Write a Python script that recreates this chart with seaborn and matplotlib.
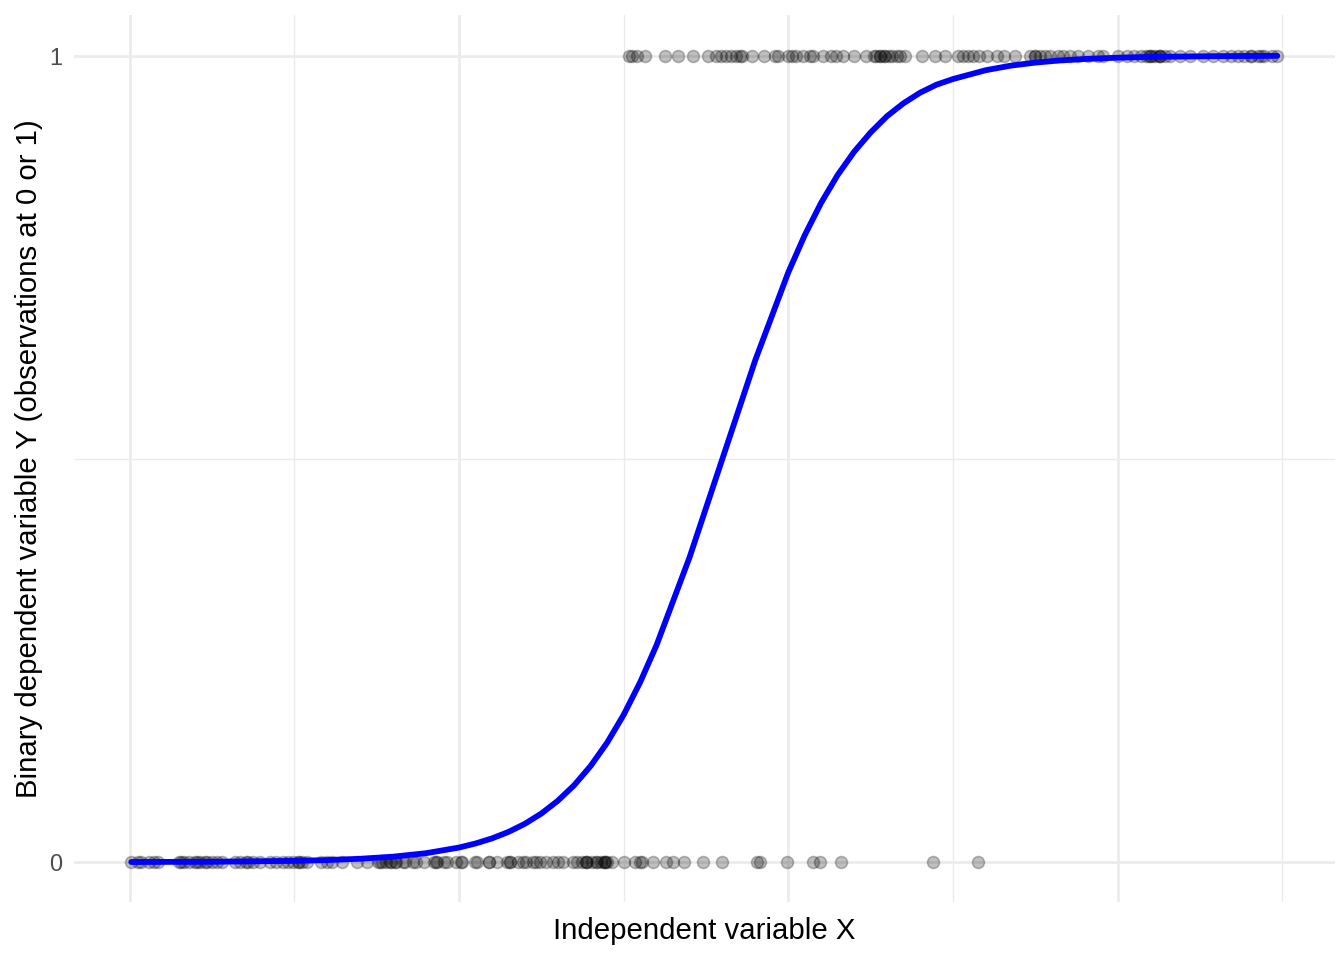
import numpy as np
import pandas as pd
import matplotlib
matplotlib.use("Agg")
import matplotlib.pyplot as plt
import seaborn as sns

# observations at Y = 0 (x positions)
x_zero = [0.01, 0.05, 0.07, 0.12, 0.15, 0.17, 0.30, 0.31, 0.33, 0.36, 0.40, 0.41,
          0.43, 0.46, 0.47, 0.50, 0.53, 0.56, 0.64, 0.67, 0.71, 0.72, 0.75, 0.79,
          0.85, 0.89, 0.93, 0.96, 0.99, 1.02, 1.03, 1.05, 1.08, 1.16, 1.20, 1.23,
          1.29, 1.38, 1.44, 1.51, 1.52, 1.53, 1.56, 1.58, 1.59, 1.61, 1.62, 1.66,
          1.67, 1.72, 1.74, 1.79, 1.85, 1.86, 1.87, 1.91, 1.93, 1.98, 2.01, 2.02,
          2.10, 2.11, 2.18, 2.18, 2.23, 2.29, 2.31, 2.31, 2.36, 2.39, 2.41, 2.45,
          2.47, 2.49, 2.53, 2.57, 2.60, 2.63, 2.69, 2.72, 2.75, 2.77, 2.77, 2.78,
          2.81, 2.83, 2.84, 2.86, 2.88, 2.89, 2.89, 2.90, 2.93, 3.00, 3.07, 3.10,
          3.11, 3.18, 3.26, 3.30, 3.37, 3.48, 3.60, 3.81, 3.83, 3.99, 4.15, 4.19,
          4.32, 4.88, 5.15]

# observations at Y = 1
x_one = [3.03, 3.05, 3.08, 3.13, 3.25, 3.33, 3.42, 3.51, 3.56, 3.59, 3.62, 3.65,
         3.68, 3.71, 3.72, 3.78, 3.85, 3.92, 3.94, 4.00, 4.02, 4.05, 4.09, 4.13,
         4.15, 4.21, 4.26, 4.29, 4.33, 4.40, 4.47, 4.52, 4.53, 4.56, 4.56, 4.58,
         4.59, 4.61, 4.63, 4.66, 4.68, 4.71, 4.81, 4.89, 4.95, 5.03, 5.06, 5.09,
         5.12, 5.16, 5.21, 5.27, 5.31, 5.38, 5.47, 5.50, 5.50, 5.53, 5.56, 5.59,
         5.64, 5.67, 5.71, 5.76, 5.82, 5.88, 5.91, 6.00, 6.06, 6.10, 6.14, 6.17,
         6.19, 6.20, 6.21, 6.23, 6.25, 6.26, 6.26, 6.29, 6.32, 6.38, 6.44, 6.52,
         6.58, 6.64, 6.69, 6.73, 6.77, 6.81, 6.81, 6.85, 6.87, 6.89, 6.94, 6.97]

# fitted probability curve
curve_x = [0.01, 0.5, 1.0, 1.2, 1.4, 1.6, 1.8, 2.0, 2.1, 2.2, 2.3, 2.4, 2.5, 2.6,
           2.7, 2.8, 2.9, 3.0, 3.1, 3.2, 3.4, 3.6, 3.8, 4.0, 4.1, 4.2, 4.3, 4.4,
           4.5, 4.6, 4.7, 4.8, 4.9, 5.0, 5.2, 5.35, 5.5, 5.65, 5.8, 6.0, 6.2,
           6.6, 6.97]
curve_p = [0.0001, 0.0004, 0.0015, 0.0025, 0.0041, 0.0067, 0.0110, 0.0180, 0.0230,
           0.0293, 0.0373, 0.0474, 0.0601, 0.0759, 0.0953, 0.1192, 0.1480, 0.1824,
           0.2227, 0.2689, 0.3775, 0.5000, 0.6225, 0.7311, 0.7773, 0.8176, 0.8520,
           0.8808, 0.9047, 0.9250, 0.9410, 0.9540, 0.9640, 0.9710, 0.9820, 0.9876,
           0.9914, 0.9941, 0.9959, 0.9975, 0.9985, 0.9994, 0.9998]

points = pd.DataFrame({"x": x_zero + x_one,
                       "y": [0] * len(x_zero) + [1] * len(x_one)})
curve = pd.DataFrame({"x": curve_x, "p": curve_p})

sns.set_theme(style="whitegrid")
plt.rcParams['font.family'] = ['Liberation Sans', 'DejaVu Sans']

fig, ax = plt.subplots(figsize=(1344 / 144, 960 / 144), dpi=144)
fig.subplots_adjust(left=0.055, right=0.993, top=0.984, bottom=0.06)

sns.scatterplot(data=points, x="x", y="y", color="black", alpha=0.25, s=36,
                edgecolor="black", linewidth=0.8, ax=ax, zorder=3)
sns.lineplot(data=curve, x="x", y="p", color="blue", linewidth=2.9, ax=ax, zorder=4)

ax.set_xlim(-0.338, 7.318)
ax.set_ylim(-0.05, 1.05)
ax.set_xticks([0, 2, 4, 6])
ax.set_xticks([1, 3, 5, 7], minor=True)
ax.set_xticklabels([])
ax.set_yticks([0, 1])
ax.set_yticks([0.5], minor=True)
ax.set_yticklabels(["0", "1"])

ax.grid(which="major", color="#EBEBEB", linewidth=1.3)
ax.grid(which="minor", color="#EBEBEB", linewidth=0.7)
ax.set_axisbelow(True)
ax.tick_params(which="both", length=0)
ax.tick_params(axis="y", pad=6, labelsize=11.7, labelcolor="#4D4D4D")
sns.despine(ax=ax, left=True, bottom=True)

ax.set_xlabel("Independent variable X", fontsize=14.7, color="black")
ax.set_ylabel("Binary dependent variable Y (observations at 0 or 1)",
              fontsize=14.7, color="black", labelpad=3)
ax.xaxis.set_label_coords(0.5, -0.016)
ax.xaxis.label.set_va("top")

fig.savefig("out.png", dpi=144, facecolor="white")
